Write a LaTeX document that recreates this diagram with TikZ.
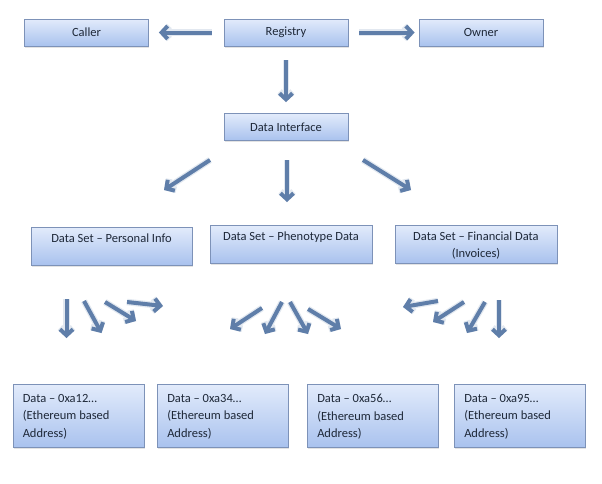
\documentclass[tikz,border=0pt]{standalone}
\usepackage{fontspec}
\setmainfont{Carlito}
\usetikzlibrary{arrows.meta,shadows}
\definecolor{boxtop}{HTML}{E2EBFB}
\definecolor{boxbot}{HTML}{A9C2EE}
\definecolor{boxline}{HTML}{7D92B8}
\definecolor{arrcol}{HTML}{5F7EA9}
\definecolor{txtcol}{HTML}{1E2838}
\tikzset{
  box/.style={draw=boxline, line width=0.9pt, top color=boxtop, bottom color=boxbot,
    drop shadow={opacity=0.22, shadow xshift=0.6pt, shadow yshift=-1.8pt},
    inner sep=0pt, text=txtcol, font=\fontsize{12.5}{15}\selectfont},
  topbox/.style={box, minimum width=124pt, minimum height=27pt},
  dsbox/.style={box, minimum width=162pt, minimum height=38pt},
  databox/.style={box, minimum width=131pt, minimum height=63pt},
  lbl/.style={text=txtcol, inner sep=0pt, align=center, font=\fontsize{12.5}{17}\selectfont},
  dlbl/.style={text=txtcol, inner sep=0pt, align=left, font=\fontsize{12.5}{17.5}\selectfont},
  arr/.style={draw=arrcol, line width=4pt, -{Straight Barb[length=6pt,width=13pt]},
    preaction={draw=arrcol!18, line width=6.5pt, -{Straight Barb[length=6pt,width=13pt]}}},
}
\begin{document}
\begin{tikzpicture}[x=1pt,y=-1pt]
\useasboundingbox[fill=white] (0,0) rectangle (602,483);
% top row
\node[topbox] (caller) at (86.5,32.5) {Caller};
\node[topbox] (reg) at (286,32.5) {Registry};
\node[topbox] (owner) at (481,32.5) {Owner};
\node[topbox] (di) at (286,127) {Data Interface};
% data sets
\node[dsbox, minimum width=161pt] (ps) at (111.5,246) {};
\node[lbl, anchor=north] (pst) at ([yshift=-7pt]ps.north) {Data Set -- Personal Info};
\node[dsbox] (ph) at (291,244) {};
\node[lbl, anchor=north] (pht) at ([yshift=-7pt]ph.north) {Data Set -- Phenotype Data};
\node[dsbox] (fi) at (476,244) {};
\node[lbl, anchor=north] (fit) at ([yshift=-7pt]fi.north) {Data Set -- Financial Data\\(Invoices)};
% data boxes
\node[databox] (d1) at (78.5,416) {};
\node[dlbl, anchor=north west] (d1t) at ([xshift=10pt,yshift=-10pt]d1.north west) {Data -- 0xa12\dots\\(Ethereum based\\Address)};
\node[databox] (d2) at (223,416) {};
\node[dlbl, anchor=north west] (d2t) at ([xshift=10pt,yshift=-10pt]d2.north west) {Data -- 0xa34\dots\\(Ethereum based\\Address)};
\node[databox] (d3) at (373,416) {};
\node[dlbl, anchor=north west] (d3t) at ([xshift=10pt,yshift=-10pt]d3.north west) {Data -- 0xa56\dots\\(Ethereum based\\Address)};
\node[databox] (d4) at (520,416) {};
\node[dlbl, anchor=north west] (d4t) at ([xshift=10pt,yshift=-10pt]d4.north west) {Data -- 0xa95\dots\\(Ethereum based\\Address)};
% top connectors
\draw[arr, shorten <=12pt, shorten >=10pt] (reg.west) -- (caller.east);
\draw[arr, shorten <=11pt, shorten >=4pt] (reg.east) -- (owner.west);
\draw[arr, shorten <=14pt, shorten >=11pt] (reg.south) -- (di.north);
% interface arrows
\coordinate (i1s) at (210,160); \coordinate (i1e) at (164,190);
\coordinate (i2s) at (287,160); \coordinate (i2e) at (287,202);
\coordinate (i3s) at (363,160); \coordinate (i3e) at (411,190);
\draw[arr] (i1s) -- (i1e);
\draw[arr] (i2s) -- (i2e);
\draw[arr] (i3s) -- (i3e);
% personal arrows
\coordinate (a1s) at (66.5,299); \coordinate (a1e) at (66.5,338);
\coordinate (a2s) at (84,301); \coordinate (a2e) at (101.5,333);
\coordinate (a3s) at (105,302); \coordinate (a3e) at (136,321);
\coordinate (a4s) at (127,302); \coordinate (a4e) at (163,306);
\draw[arr] (a1s) -- (a1e);
\draw[arr] (a2s) -- (a2e);
\draw[arr] (a3s) -- (a3e);
\draw[arr] (a4s) -- (a4e);
% phenotype arrows
\coordinate (b1s) at (262,308); \coordinate (b1e) at (230,329);
\coordinate (b2s) at (282,302); \coordinate (b2e) at (265,334);
\coordinate (b3s) at (290,302); \coordinate (b3e) at (308,334);
\coordinate (b4s) at (308,309); \coordinate (b4e) at (341,329);
\draw[arr] (b1s) -- (b1e);
\draw[arr] (b2s) -- (b2e);
\draw[arr] (b3s) -- (b3e);
\draw[arr] (b4s) -- (b4e);
% financial arrows
\coordinate (c1s) at (438,301); \coordinate (c1e) at (403,307);
\coordinate (c2s) at (464,302); \coordinate (c2e) at (433,322);
\coordinate (c3s) at (485,302); \coordinate (c3e) at (467,333);
\coordinate (c4s) at (499,300); \coordinate (c4e) at (499,338);
\draw[arr] (c1s) -- (c1e);
\draw[arr] (c2s) -- (c2e);
\draw[arr] (c3s) -- (c3e);
\draw[arr] (c4s) -- (c4e);
\end{tikzpicture}
\end{document}
